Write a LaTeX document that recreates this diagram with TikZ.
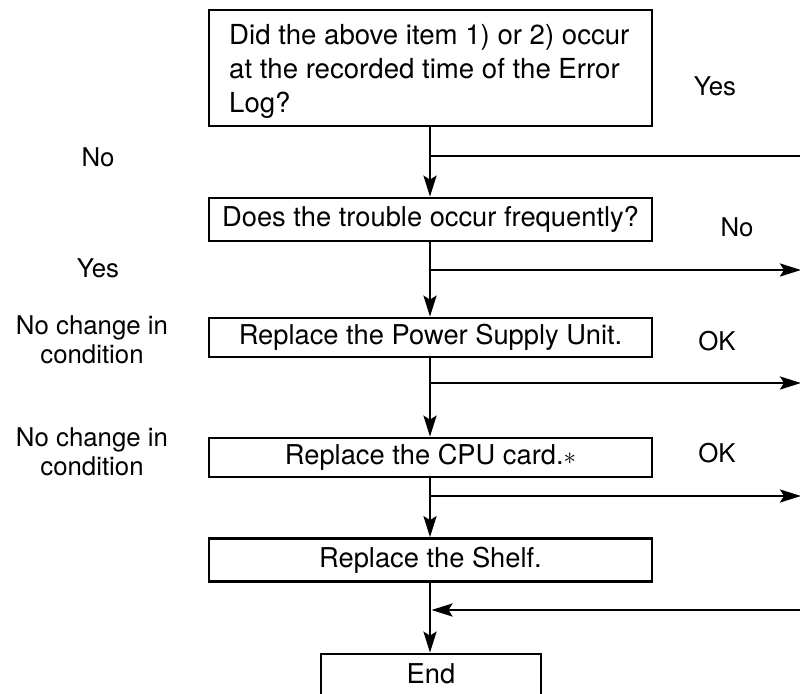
\documentclass[tikz,border=0pt]{standalone}
\usepackage{fontspec}
\setmainfont{TeX Gyre Heros}
\usetikzlibrary{arrows.meta}
\begin{document}
\begin{tikzpicture}[x=1pt,y=-1pt,
  box/.style={draw,line width=2.7pt,minimum width=443pt,inner sep=0pt,font=\fontsize{27.3}{34}\selectfont},
  lbl/.style={font=\fontsize{25.8}{29}\selectfont,align=center,inner sep=0pt},
  conn/.style={line width=2.7pt},
  arr/.style={conn,-{Stealth[length=21pt,width=13pt,inset=4pt]}}]
\useasboundingbox (0,0) rectangle (800,693);
\clip (0,0) rectangle (800,693);
\node[box,minimum height=116pt] (b1) at (430.5,68) {};
\node[anchor=west,align=left,inner sep=0pt,font=\fontsize{27.6}{34}\selectfont] (t1) at (229,71) {Did the above item 1) or 2) occur\\at the recorded time of the Error\\Log?};
\node[box,minimum height=43pt] (b2) at (430.5,219.5) {Does the trouble occur frequently?};
\node[box,minimum height=39pt] (b3) at (430.5,337.5) {Replace the Power Supply Unit.};
\node[box,minimum height=39pt] (b4) at (430.5,457.5) {Replace the CPU card.{\fontsize{36}{36}\selectfont$\ast$}};
\node[box,minimum height=43pt] (b5) at (430.5,560) {Replace the Shelf.};
\node[box,minimum width=220pt,minimum height=70pt] (b6) at (431,689) {};
\node[inner sep=0pt,font=\fontsize{27.3}{34}\selectfont] (t6) at (431,674) {End};
% labels
\node[lbl] (y1) at (715,86) {Yes};
\node[lbl] (n1) at (98,157) {No};
\node[lbl] (n2) at (737,227) {No};
\node[lbl] (y2) at (98,268) {Yes};
\node[lbl] (ok1) at (717,341) {OK};
\node[lbl] (nc1) at (92,340) {No change in\\condition};
\node[lbl] (ok2) at (717,453) {OK};
\node[lbl] (nc2) at (92,452) {No change in\\condition};
% branch points
\coordinate (p1) at (430,156);
\coordinate (e1) at (801,156);
\coordinate (p2) at (430,270);
\coordinate (e2) at (801,270);
\coordinate (p3) at (430,383);
\coordinate (e3) at (801,383);
\coordinate (p4) at (430,496);
\coordinate (e4) at (801,496);
\coordinate (p5) at (430,610);
\coordinate (e5) at (801,610);
% connectors
\draw[arr] (b1.south -| p1) -- (b2.north -| p1);
\draw[arr] (b2.south -| p2) -- (b3.north -| p2);
\draw[arr] (b3.south -| p3) -- (b4.north -| p3);
\draw[arr] (b4.south -| p4) -- (b5.north -| p4);
\draw[arr] (b5.south -| p5) -- (b6.north -| p5);
\draw[conn] (p1) -- (e1);
\draw[arr] (p2) -- (e2);
\draw[arr] (p3) -- (e3);
\draw[arr] (p4) -- (e4);
\draw[arr] (e5) -- ([xshift=1.5pt]p5);
\end{tikzpicture}
\end{document}
